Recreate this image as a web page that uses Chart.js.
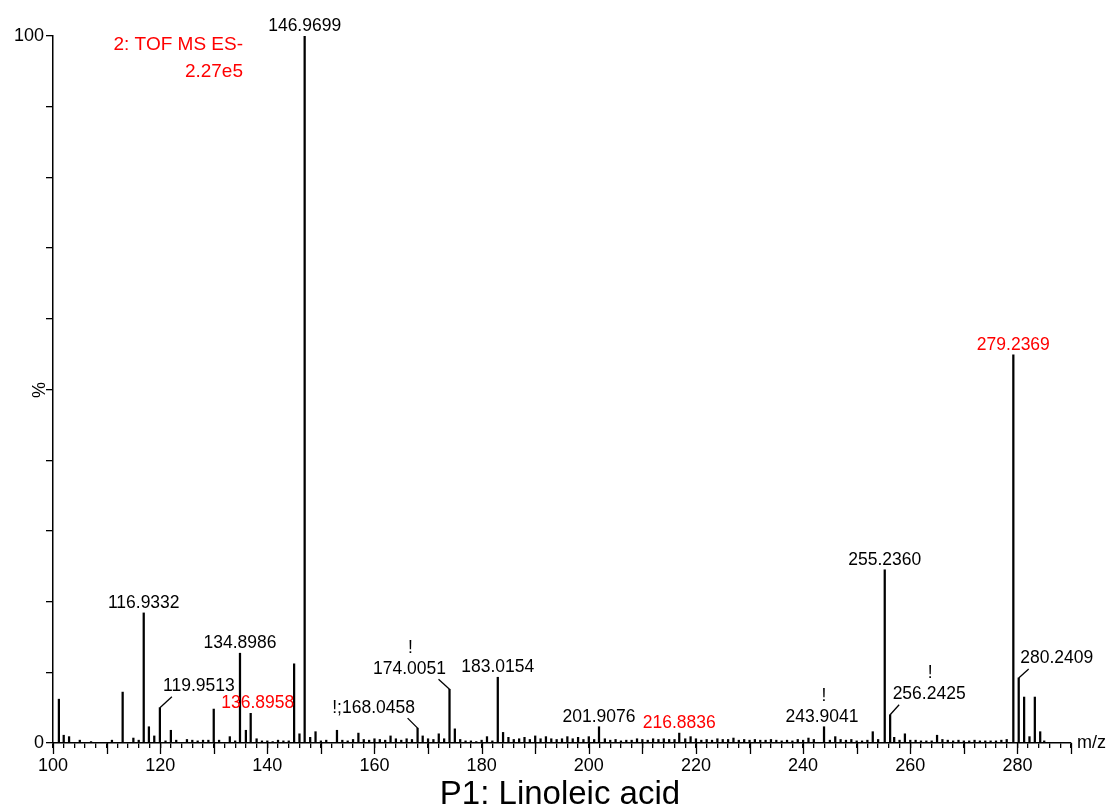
<!DOCTYPE html>
<html>
<head>
<meta charset="utf-8">
<script src="https://cdn.jsdelivr.net/npm/chart.js@4.4.1/dist/chart.umd.min.js"></script>
<style>
  body { margin: 0; background: #fff; }
  #wrap { width: 1113px; height: 812px; }
</style>
</head>
<body>
<div id="wrap"><canvas id="spec" width="1113" height="812"></canvas></div>
<script>
// peak list (m/z, relative intensity %)
const mzValues = [
  101.1, 102.0, 103.0, 105.0, 107.1, 111.0, 113.0, 115.0, 116.0, 116.9332,
  117.9, 118.9, 119.9513, 121.0, 122.0, 123.0, 125.0, 126.0, 127.0, 128.0,
  129.0, 130.0, 131.0, 133.0, 134.0, 134.8986, 136.0, 136.8958, 138.0, 139.0,
  140.0, 141.0, 142.0, 143.0, 144.0, 145.0, 146.0, 146.9699, 148.0, 149.0,
  150.0, 151.0, 153.0, 154.0, 155.0, 156.0, 157.0, 158.0, 159.0, 160.0,
  161.0, 162.0, 163.0, 164.0, 165.0, 166.0, 167.0, 168.0458, 169.0, 170.0,
  171.0, 172.0, 173.0, 174.0051, 175.0, 176.0, 177.0, 178.0, 179.0, 180.0,
  181.0, 182.0, 183.0154, 184.0, 185.0, 186.0, 187.0, 188.0, 189.0, 190.0,
  191.0, 192.0, 193.0, 194.0, 195.0, 196.0, 197.0, 198.0, 199.0, 200.0,
  201.0, 201.9076, 203.0, 204.0, 205.0, 206.0, 207.0, 208.0, 209.0, 210.0,
  211.0, 212.0, 213.0, 214.0, 215.0, 216.0, 216.8836, 218.0, 219.0, 220.0,
  221.0, 222.0, 223.0, 224.0, 225.0, 226.0, 227.0, 228.0, 229.0, 230.0,
  231.0, 232.0, 233.0, 234.0, 235.0, 236.0, 237.0, 238.0, 239.0, 240.0,
  241.0, 242.0, 243.9041, 245.0, 246.0, 247.0, 248.0, 249.0, 250.0, 251.0,
  252.0, 253.0, 254.0, 255.2360, 256.2425, 257.0, 258.0, 259.0, 260.0, 261.0,
  262.0, 263.0, 264.0, 265.0, 266.0, 267.0, 268.0, 269.0, 270.0, 271.0,
  272.0, 273.0, 274.0, 275.0, 276.0, 277.0, 278.0, 279.2369, 280.2409, 281.25,
  282.25, 283.25, 284.25, 285.0
];
const intensities = [
  6.2, 1.1, 0.9, 0.4, 0.2, 0.4, 7.2, 0.7, 0.4, 18.4,
  2.3, 1.0, 5.0, 0.3, 1.8, 0.4, 0.5, 0.4, 0.3, 0.4,
  0.4, 4.8, 0.4, 0.9, 0.3, 12.7, 1.8, 4.2, 0.6, 0.3,
  0.3, 0.2, 0.4, 0.3, 0.3, 11.2, 1.3, 100, 0.8, 1.6,
  0.3, 0.4, 1.8, 0.4, 0.3, 0.5, 1.4, 0.5, 0.4, 0.6,
  0.5, 0.4, 1.0, 0.6, 0.4, 0.6, 0.5, 2.1, 1.0, 0.6,
  0.5, 1.3, 0.6, 7.6, 2.0, 0.5, 0.3, 0.3, 0.2, 0.4,
  0.9, 0.3, 9.3, 1.5, 0.8, 0.5, 0.6, 0.8, 0.5, 1.0,
  0.6, 0.9, 0.6, 0.5, 0.6, 0.9, 0.6, 0.8, 0.5, 0.9,
  0.5, 2.3, 0.6, 0.4, 0.5, 0.3, 0.4, 0.4, 0.6, 0.5,
  0.4, 0.6, 0.5, 0.6, 0.5, 0.5, 1.4, 0.6, 0.9, 0.6,
  0.4, 0.5, 0.4, 0.6, 0.5, 0.5, 0.7, 0.4, 0.5, 0.4,
  0.5, 0.4, 0.4, 0.5, 0.4, 0.3, 0.4, 0.3, 0.5, 0.4,
  0.7, 0.5, 2.3, 0.4, 0.9, 0.5, 0.4, 0.5, 0.3, 0.3,
  0.4, 1.6, 0.5, 24.5, 4.0, 0.8, 0.4, 1.3, 0.4, 0.4,
  0.3, 0.3, 0.3, 1.1, 0.5, 0.4, 0.3, 0.4, 0.3, 0.3,
  0.4, 0.3, 0.3, 0.3, 0.3, 0.4, 0.5, 54.9, 9.2, 6.5,
  0.9, 6.5, 1.6, 0.3
];

// annotated peaks
const labelMz = [116.9332, 119.9513, 134.8986, 136.8958, 146.9699, 168.0458, 174.0051,
  183.0154, 201.9076, 216.8836, 243.9041, 255.2360, 256.2425, 279.2369, 280.2409];
const labelText = ["116.9332", "119.9513", "134.8986", "136.8958", "146.9699", "!;168.0458", "174.0051",
  "183.0154", "201.9076", "216.8836", "243.9041", "255.2360", "256.2425", "279.2369", "280.2409"];
const redLabels = ["136.8958", "216.8836", "279.2369"];
const bangLabels = ["174.0051", "243.9041", "256.2425"];

const xTickLabels = [100, 120, 140, 160, 180, 200, 220, 240, 260, 280];

// leader line end and text offsets in pixels (text/bang relative to leader end)
const labelLayout = {
  "119.9513": { lead: [12, -11], text: [27, -10] },
  "136.8958": { text: [7, -10] },
  "!;168.0458": { lead: [-10, -10], text: [-34, -10] },
  "174.0051": { lead: [-11, -10], text: [-29, -10], bang: [-28, -31] },
  "243.9041": { text: [-2, -10], bang: [0, -31] },
  "256.2425": { lead: [9, -10], text: [30, -11], bang: [31, -32] },
  "280.2409": { lead: [10, -9], text: [28, -11] }
};

const FONT = "'Liberation Sans', Arial, sans-serif";

const spectrum = mzValues.map((m, i) => ({ x: m, y: intensities[i] }));

const annotations = {
  id: "annotations",
  afterDraw(chart) {
    const c = chart.ctx;
    const xs = chart.scales.x;
    const ys = chart.scales.y;
    const area = chart.chartArea;
    c.save();

    // longer ticks every 10 on x
    c.strokeStyle = "#000";
    c.lineWidth = 1.3;
    for (let v = 100; v <= 290; v += 10) {
      const px = Math.round(xs.getPixelForValue(v)) + 0.5;
      c.beginPath();
      c.moveTo(px, area.bottom);
      c.lineTo(px, area.bottom + 11);
      c.stroke();
    }

    // peak labels
    c.font = "17.5px " + FONT;
    c.textAlign = "center";
    c.textBaseline = "middle";
    c.lineWidth = 1.3;
    labelMz.forEach((m, i) => {
      const txt = labelText[i];
      const idx = mzValues.indexOf(m);
      const px = xs.getPixelForValue(m);
      const py = ys.getPixelForValue(intensities[idx]);
      const lay = labelLayout[txt] || { text: [0, -10] };
      let ax = px, ay = py;
      if (lay.lead) {
        ax = px + lay.lead[0];
        ay = py + lay.lead[1];
        c.strokeStyle = "#000";
        c.beginPath();
        c.moveTo(px, py);
        c.lineTo(ax, ay);
        c.stroke();
      }
      c.fillStyle = redLabels.includes(txt) ? "#ff0000" : "#000";
      c.fillText(txt, ax + lay.text[0], ay + lay.text[1]);
      if (bangLabels.includes(txt)) {
        c.fillStyle = "#000";
        c.fillText("!", ax + lay.bang[0], ay + lay.bang[1]);
      }
    });

    // instrument note
    c.fillStyle = "#ff0000";
    c.font = "19px " + FONT;
    c.textAlign = "right";
    c.fillText("2: TOF MS ES-", 243, 45);
    c.fillText("2.27e5", 243, 72);

    // axis captions
    c.fillStyle = "#000";
    c.font = "18px " + FONT;
    c.textAlign = "left";
    c.fillText("m/z", area.right + 6, area.bottom);
    c.save();
    c.translate(40, 390);
    c.rotate(-Math.PI / 2);
    c.textAlign = "center";
    c.fillText("%", 0, 0);
    c.restore();

    c.font = "33px " + FONT;
    c.textAlign = "center";
    c.fillText("P1: Linoleic acid", 560, 795);
    c.restore();
  }
};

new Chart(document.getElementById("spec"), {
  type: "bar",
  data: {
    datasets: [{
      data: spectrum,
      backgroundColor: "#000",
      borderWidth: 0,
      barThickness: 1.6
    }]
  },
  options: {
    responsive: false,
    animation: false,
    layout: { padding: { top: 36, right: 42, left: 0, bottom: 0 } },
    plugins: { legend: { display: false }, tooltip: { enabled: false } },
    scales: {
      x: {
        type: "linear",
        min: 100,
        max: 290,
        offset: false,
        afterFit: s => { s.height = 69; },
        border: { color: "#000", width: 1.5 },
        grid: { offset: false, drawOnChartArea: false, color: "#000", tickLength: 5, lineWidth: 1.3 },
        ticks: {
          stepSize: 2,
          autoSkip: false,
          maxRotation: 0,
          maxTicksLimit: 200,
          padding: 7,
          color: "#000",
          font: { size: 18, family: FONT },
          callback: v => xTickLabels.includes(v) ? String(v) : ""
        }
      },
      y: {
        min: 0,
        max: 100,
        afterFit: s => { s.width = 53; },
        border: { color: "#000", width: 1.5 },
        grid: { drawOnChartArea: false, color: "#000", tickLength: 7, lineWidth: 1.3 },
        ticks: {
          stepSize: 10,
          padding: 2,
          color: "#000",
          font: { size: 18, family: FONT },
          callback: v => (v === 0 || v === 100) ? String(v) : ""
        }
      }
    }
  },
  plugins: [annotations]
});
</script>
</body>
</html>
